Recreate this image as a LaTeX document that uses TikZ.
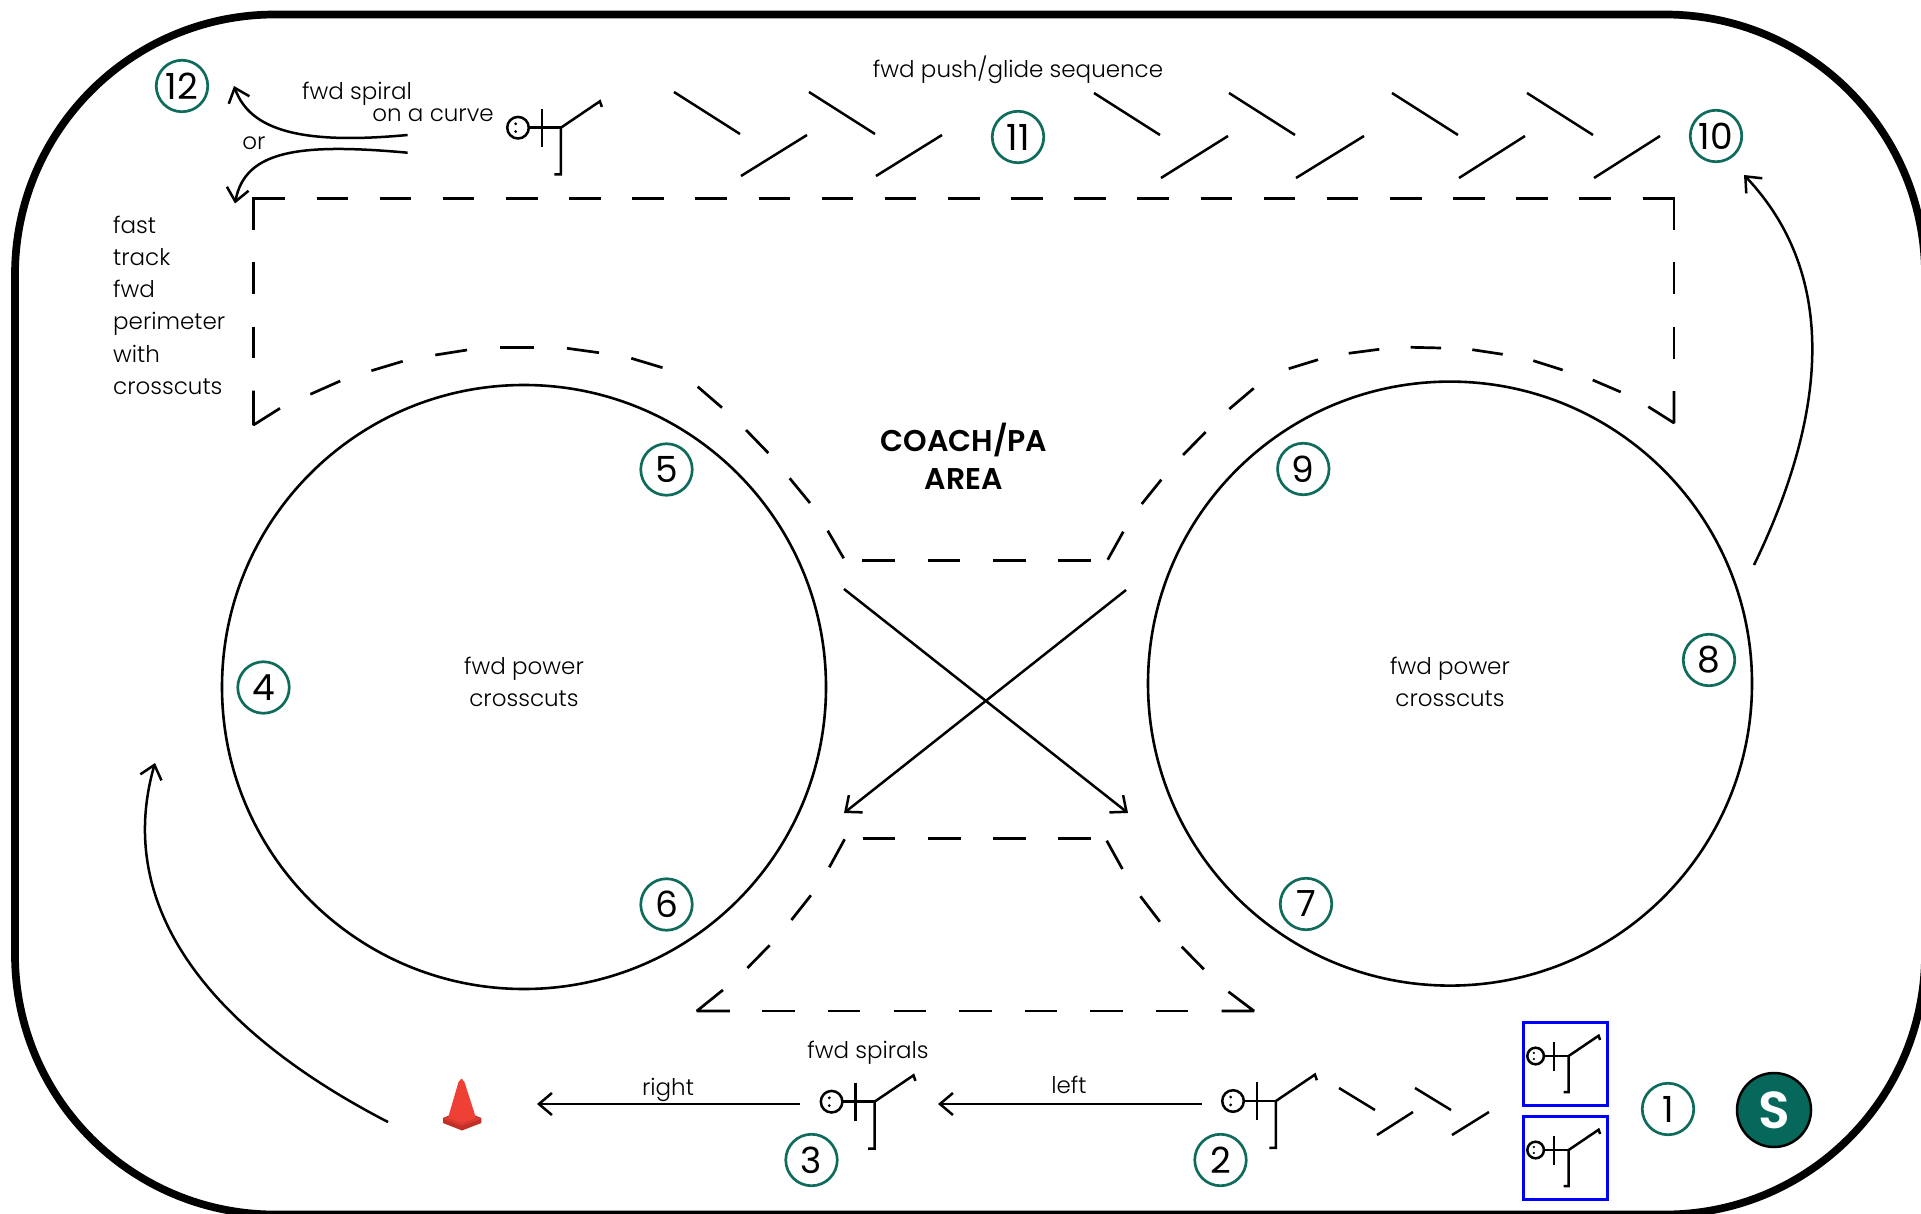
\documentclass[tikz,border=0pt]{standalone}
\usepackage{fontspec}
\setmainfont{Poppins}[UprightFont=* Light,BoldFont=* SemiBold]
\newfontfamily\numfont{Poppins}
\usetikzlibrary{arrows.meta}
\definecolor{teal1}{HTML}{0F6B5C}
\definecolor{teal2}{HTML}{05685A}
\definecolor{conered}{HTML}{EE4035}
\definecolor{conedark}{HTML}{C22F27}
\tikzset{
  x=1pt,y=-1pt,
  flow/.style={line width=2.5pt,-{Straight Barb[length=13pt,width=22pt,line width=2.5pt]}},
  perim/.style={line width=2.7pt,line join=miter,miter limit=2},
  num/.style={circle,draw=teal1,line width=2.7pt,minimum size=51.5pt,inner sep=0pt,font=\numfont\fontsize{36}{36}\selectfont},
  lab/.style={anchor=base,inner sep=0pt,font=\fontsize{23}{23}\selectfont},
  coachlab/.style={anchor=base,inner sep=0pt,font=\fontsize{30}{30}\bfseries\selectfont},
  ringnode/.style={circle,draw,line width=2.6pt,minimum size=604pt,inner sep=0pt},
  bluebox/.style={draw=blue,line width=3pt,minimum width=84pt,minimum height=83pt,inner sep=0pt},
  skater/.pic={
    \draw[line width=2.5pt] (0,0) circle[radius=8.3];
    \fill (-1.8,-3) circle[radius=1.2] (-1.8,3) circle[radius=1.2];
    \draw[line width=2.5pt] (8.3,0) -- (33,0);
    \draw[line width=2.5pt] (18.5,-14.5) -- (18.5,14.5);
    \draw[line width=2.5pt] (28,36) -- (33,36) -- (33,0) -- (63,-20.3) -- (64.5,-16);
  }
}
\begin{document}
\begin{tikzpicture}
\useasboundingbox (0,0) rectangle (1921,1214);
\clip (0,0) rectangle (1921,1214);
% rink
\draw[line width=7.7pt,rounded corners=260pt] (15,14.5) rectangle (1925,1214.5);
% numbered stations
\node[num] (n1) at (1668,1109) {1};
\node[num] (n2) at (1220.5,1160) {2};
\node[num] (n3) at (811.5,1160) {3};
\node[num] (n4) at (263.5,687.5) {4};
\node[num] (n5) at (666.5,469.5) {5};
\node[num] (n6) at (666.5,904.5) {6};
\node[num] (n7) at (1306,904) {7};
\node[num] (n8) at (1709,660) {8};
\node[num] (n9) at (1303.3,469) {9};
\node[num] (n10) at (1716,136) {10};
\node[num] (n11) at (1018,137) {11};
\node[num] (n12) at (182,86) {12};
\node[circle,draw=black,fill=teal2,line width=2.5pt,minimum size=74pt,inner sep=0pt,text=white,font=\fontsize{52}{52}\bfseries\selectfont] (start) at (1774,1110) {S};
% big circles
\node[ringnode] (leftc) at (524,687) {};
\node[ringnode] (rightc) at (1450,683.6) {};
% labels
\node[lab] (t1) at (524,674.5) {fwd power};
\node[lab] (t2) at (524,706.5) {crosscuts};
\node[lab] (t3) at (1450,674.5) {fwd power};
\node[lab] (t4) at (1450,706.5) {crosscuts};
\node[lab] (t5) at (1018,78) {fwd push/glide sequence};
\node[lab] (t6) at (357,100) {fwd spiral};
\node[lab] (t7) at (433,121.5) {on a curve};
\node[lab] (t8) at (254,150) {or};
\node[lab] (t9) at (668,1095) {right};
\node[lab] (t10) at (1069,1093) {left};
\node[lab] (t11) at (868,1058) {fwd spirals};
\foreach \n/\t/\yy in {a/fast/234,b/track/266,c/fwd/298,d/perimeter/330,e/with/362,f/crosscuts/394}
  \node[lab,anchor=base west] (l\n) at (113,\yy) {\t};
\node[coachlab] (c1) at (964,451) {COACH/PA};
\node[coachlab] (c2) at (964,489) {AREA};
% blue boxes
\node[bluebox] (b1) at (1565,1063.5) {};
\node[bluebox] (b2) at (1565,1157.5) {};
% skaters
\pic at (1535.6,1056) {skater};
\pic at (1535.6,1150) {skater};
\pic[scale=1.3] at (1233,1101) {skater};
\pic[scale=1.3] at (831.6,1101.7) {skater};
\pic[scale=1.3] at (518,127.7) {skater};
% push/glide strokes
\foreach \xa/\ya/\xb/\yb in {
 674/92/740/134, 741/176/807/135, 809/92/875/134, 876/176/942/135,
 1094/93/1160/135, 1161/178/1228/136, 1229/93/1295/135, 1296/178/1364/136,
 1392/93/1458/135, 1459/178/1525/136, 1527/93/1593/135, 1594/178/1660/136,
 1339/1088/1375/1110, 1377/1135/1413/1112, 1415/1088/1451/1110, 1452/1135/1489/1112}
  \draw[line width=2.5pt] (\xa,\ya) -- (\xb,\yb);
% dashed perimeter: straight runs
\draw[perim,dash pattern=on 31.57pt off 31.57pt] (253.5,198.3) -- (1674,198.3);
\draw[perim,dash pattern=on 32.7pt off 32.6pt] (862.3,560.3) -- (1091,560.3);
\draw[perim,dash pattern=on 32.7pt off 32.6pt] (862.5,838.3) -- (1090.6,838.3);
\draw[perim,dash pattern=on 32.4pt off 33.2pt] (696.8,1011) -- (1254,1011);
% dashed perimeter: corners
\draw[perim] (285,198.3) -- (253.5,198.3) -- (253.5,230);
\draw[perim] (1642.7,198.3) -- (1674,198.3) -- (1674,230);
\draw[perim] (253.5,390.7) -- (253.5,425) -- (280,408.3);
\draw[perim] (1674,391) -- (1674,423) -- (1648.3,406.7);
\draw[perim] (722.9,990) -- (696.8,1011) -- (729.8,1011);
\draw[perim] (1228.4,991.7) -- (1254,1011) -- (1221.5,1011);
% dashed perimeter: single dashes on the curves
\foreach \xa/\ya/\xb/\yb in {
 253.5/262/253.5/294, 253.5/326.7/253.5/358.3,
 1674/261.7/1674/294, 1674/326.7/1674/359,
 310.3/394.3/340.2/381, 371.4/370.7/402.7/361.3, 435.3/355/467/350,
 500/347.3/533.5/347.3, 567/348.3/599/352.7, 631.3/358.3/662.5/367.7,
 697.7/386.7/722/407.7, 746/430/768.3/453, 789.7/478.3/810/503, 827.7/530.7/843.7/558.3,
 1592.7/380/1620.7/392, 1533.3/360.7/1562.7/370, 1472.3/349.7/1502.7/354.3,
 1410.7/347.3/1441/348, 1348.7/353.3/1379.3/349.3, 1288.7/368.7/1318/359.7,
 1229.3/409/1253.7/388.3, 1183/455/1205.7/432, 1141.7/504/1161.3/479.7, 1107.7/559.7/1123.3/531.7,
 844.6/839.3/829.3/867.3, 810.9/895.3/791.4/920, 769.6/945.3/747.4/968,
 1106.7/840.7/1122.4/869, 1140.4/896.3/1159.9/921.7, 1181.7/946.7/1203.9/969.3}
  \draw[perim] (\xa,\ya) -- (\xb,\yb);
% connectors
\coordinate (x1a) at (844,589); \coordinate (x1b) at (1128,813);
\coordinate (x2a) at (1126,590); \coordinate (x2b) at (844,813);
\draw[flow] (x1a) -- (x1b);
\draw[flow] (x2a) -- (x2b);
\coordinate (r1) at (800,1104); \coordinate (r2) at (537,1104);
\coordinate (l1) at (1202,1104); \coordinate (l2) at (938,1104);
\draw[flow] (r1) -- (r2);
\draw[flow] (l1) -- (l2);
\coordinate (c1a) at (388,1122); \coordinate (c1b) at (155,763);
\draw[flow] (c1a) .. controls (208,1029) and (114,906) .. (c1b);
\coordinate (c2a) at (1754,565); \coordinate (c2b) at (1744,175);
\draw[flow] (c2a) .. controls (1832,404) and (1834,270) .. (c2b);
\coordinate (u1) at (407.6,135); \coordinate (u2) at (234,86);
\draw[flow] (u1) .. controls (300,145) and (250,130) .. (u2);
\coordinate (w1) at (407.6,152.7); \coordinate (w2) at (235,203.5);
\draw[flow] (w1) .. controls (300,143) and (245,150) .. (w2);
% cone
\fill[conedark] (443,1118) -- (462,1110) -- (481.4,1118) -- (481.4,1123) -- (462,1130.5) -- (443,1123) -- cycle;
\fill[conered!90!black] (443,1119) -- (462,1111) -- (481.4,1119) -- (462,1126) -- cycle;
\fill[conered] (458.5,1082) -- (461.5,1078.5) -- (464.5,1082) -- (476,1118) -- (462,1123) -- (448,1118) -- cycle;
\end{tikzpicture}
\end{document}
